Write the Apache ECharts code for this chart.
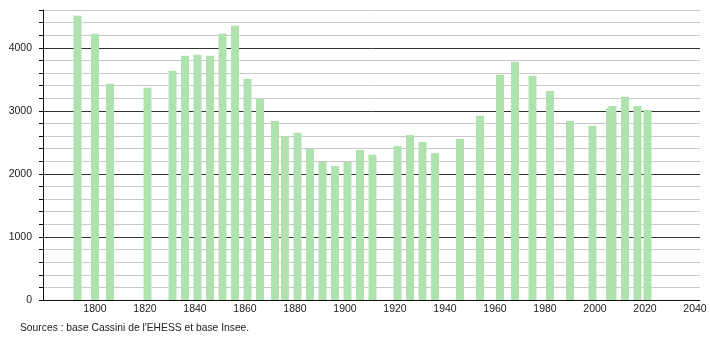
<!DOCTYPE html>
<html>
<head>
<meta charset="utf-8">
<script src="https://cdn.jsdelivr.net/npm/echarts@6/dist/echarts.min.js"></script>
<style>
html,body{margin:0;padding:0;background:#fff;}
#c{width:710px;height:340px;}
</style>
</head>
<body>
<div id="c"></div>
<script>
const years = [1793,1800,1806,1821,1831,1836,1841,1846,1851,1856,1861,1866,1872,1876,1881,1886,1891,1896,1901,1906,1911,1921,1926,1931,1936,1946,1954,1962,1968,1975,1982,1990,1999,2006,2007,2012,2017,2021];
const population = [4508,4222,3429,3365,3635,3873,3889,3873,4222,4349,3508,3190,2841,2603,2651,2397,2190,2127,2190,2381,2302,2444,2619,2508,2333,2556,2921,3571,3778,3556,3317,2841,2762,3042,3079,3222,3079,3016];
const xTickLabels = [1800,1820,1840,1860,1880,1900,1920,1940,1960,1980,2000,2020,2040];
const yTickLabels = [0,1000,2000,3000,4000];
const sourceText = "Sources : base Cassini de l'EHESS et base Insee.";

const chart = echarts.init(document.getElementById('c'), null, {renderer:'canvas'});
const font = 'Liberation Sans, Arial, Helvetica, sans-serif';
chart.setOption({
  animation:false,
  backgroundColor:'#fff',
  grid:{left:43,right:10,top:10,bottom:40,containLabel:false},
  graphic:[{type:'text',left:20,top:323,style:{text:sourceText,fontFamily:font,fontSize:10.3,fill:'#222'}}],
  xAxis:{
    type:'value',min:1779.2,max:2042,
    axisLine:{show:true,lineStyle:{color:'#111',width:1}},
    axisTick:{show:false},
    splitLine:{show:false},
    axisLabel:{customValues:xTickLabels,margin:4,color:'#222',fontFamily:font,fontSize:10.5,formatter:v=>String(v)}
  },
  yAxis:{
    type:'value',min:0,max:4600,interval:200,
    axisLine:{show:true,lineStyle:{color:'#111',width:1}},
    axisTick:{show:true,length:4,lineStyle:{color:'#111'}},
    splitLine:{show:true,lineStyle:{color:['#333','#c8c8c8','#c8c8c8','#c8c8c8','#c8c8c8'],width:1}},
    axisLabel:{margin:11,color:'#222',fontFamily:font,fontSize:10.5,
      formatter:v=>yTickLabels.indexOf(v)>=0?String(v):''}
  },
  series:[{
    type:'bar',barWidth:8,
    itemStyle:{color:'#b0e2b0'},
    data:years.map((y,i)=>[y,population[i]])
  }]
});
</script>
</body>
</html>
